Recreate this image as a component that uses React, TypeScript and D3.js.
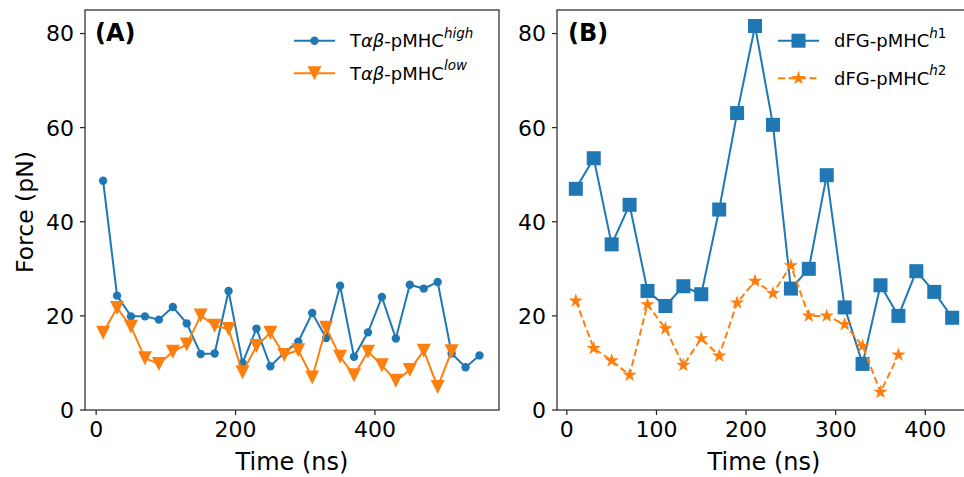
import React from 'react';
import * as d3 from 'd3';

const timeHigh = [10, 30, 50, 70, 90, 110, 130, 150, 170, 190, 210, 230, 250, 270, 290, 310, 330, 350, 370, 390, 410, 430, 450, 470, 490, 510, 530, 550];
const forceHigh = [48.7, 24.3, 19.9, 19.9, 19.2, 21.9, 18.4, 11.9, 12.0, 25.3, 10.0, 17.3, 9.3, 12.2, 14.5, 20.6, 15.3, 26.4, 11.3, 16.5, 24.0, 15.2, 26.6, 25.8, 27.2, 12.0, 9.1, 11.6];
const timeLow = [10, 30, 50, 70, 90, 110, 130, 150, 170, 190, 210, 230, 250, 270, 290, 310, 330, 350, 370, 390, 410, 430, 450, 470, 490, 510];
const forceLow = [16.4, 21.7, 17.7, 11.0, 9.8, 12.4, 13.9, 20.1, 17.9, 17.2, 8.0, 13.6, 16.4, 11.7, 12.7, 6.9, 17.5, 11.3, 7.4, 12.4, 9.5, 6.2, 8.5, 12.6, 4.9, 12.5];
const timeH1 = [10, 30, 50, 70, 90, 110, 130, 150, 170, 190, 210, 230, 250, 270, 290, 310, 330, 350, 370, 390, 410, 430];
const forceH1 = [47.0, 53.5, 35.2, 43.6, 25.3, 22.1, 26.3, 24.6, 42.6, 63.1, 81.6, 60.6, 25.8, 30.0, 49.9, 21.8, 9.8, 26.5, 20.0, 29.5, 25.1, 19.6];
const timeH2 = [10, 30, 50, 70, 90, 110, 130, 150, 170, 190, 210, 230, 250, 270, 290, 310, 330, 350, 370];
const forceH2 = [23.2, 13.1, 10.5, 7.4, 22.4, 17.3, 9.5, 15.2, 11.5, 22.8, 27.4, 24.8, 30.7, 20.0, 20.0, 18.2, 13.6, 3.8, 11.7];

const ticksA = [0, 200, 400];
const ticksB = [0, 100, 200, 300, 400];
const ticksY = [0, 20, 40, 60, 80];

const BLUE = '#1f77b4';
const ORANGE = '#ff7f0e';
const FONT = 'DejaVu Sans, sans-serif';

const top = 10, bottom = 410;
const y = d3.scaleLinear().domain([0, 85]).range([bottom, top]);
const xA = d3.scaleLinear().domain([-16, 578]).range([85, 499]);
const xB = d3.scaleLinear().domain([-11, 451]).range([557, 971]);

function starPath(R: number) {
  const r = R * 0.382;
  const pts: [number, number][] = [];
  for (let i = 0; i < 10; i++) {
    const a = (Math.PI / 5) * i - Math.PI / 2;
    const rr = i % 2 === 0 ? R : r;
    pts.push([rr * Math.cos(a), rr * Math.sin(a)]);
  }
  return 'M' + pts.map((p) => p.join(',')).join('L') + 'Z';
}
const tri = (r: number) => `M0,${r}L${-r},${-r}L${r},${-r}Z`;

type Marker = 'circle' | 'tri' | 'square' | 'star';

function MarkerShape({ kind, cx, cy, color }: { kind: Marker; cx: number; cy: number; color: string }) {
  if (kind === 'circle') return <circle cx={cx} cy={cy} r={4.2} fill={color} />;
  if (kind === 'square') return <rect x={cx - 7} y={cy - 7} width={14} height={14} fill={color} />;
  if (kind === 'tri') return <path d={tri(7)} transform={`translate(${cx},${cy})`} fill={color} />;
  return <path d={starPath(7.5)} transform={`translate(${cx},${cy})`} fill={color} />;
}

function Series({ xs, ys, x, color, marker, dashed }: { xs: number[]; ys: number[]; x: d3.ScaleLinear<number, number>; color: string; marker: Marker; dashed?: boolean }) {
  const line = d3.line<number>().x((_, i) => x(xs[i])).y((d) => y(d));
  return (
    <g>
      <path d={line(ys) || ''} fill="none" stroke={color} strokeWidth={2} strokeDasharray={dashed ? '7,3.5' : undefined} />
      {ys.map((v, i) => (
        <MarkerShape key={i} kind={marker} cx={x(xs[i])} cy={y(v)} color={color} />
      ))}
    </g>
  );
}

function Axes({ x, ticks, left, right, label, labelX }: { x: d3.ScaleLinear<number, number>; ticks: number[]; left: number; right: number; label: string; labelX: number }) {
  return (
    <g fontFamily={FONT}>
      <rect x={left} y={top} width={right - left} height={bottom - top} fill="none" stroke="#222" strokeWidth={1.2} />
      {ticks.map((t) => (
        <g key={'x' + t}>
          <line x1={x(t)} x2={x(t)} y1={bottom} y2={bottom + 5} stroke="#222" strokeWidth={1.2} />
          <text x={x(t)} y={437} textAnchor="middle" fontSize={22} fill="#000">{t}</text>
        </g>
      ))}
      {ticksY.map((t) => (
        <g key={'y' + t}>
          <line x1={left - 5} x2={left} y1={y(t)} y2={y(t)} stroke="#222" strokeWidth={1.2} />
          <text x={left - 11} y={y(t)} dy="0.36em" textAnchor="end" fontSize={22} fill="#000">{t}</text>
        </g>
      ))}
      <text x={labelX} y={470} textAnchor="middle" fontSize={24} fill="#000">{label}</text>
    </g>
  );
}

function LegendRow({ x0, yy, color, marker, dashed, base, sup }: { x0: number; yy: number; color: string; marker: Marker; dashed?: boolean; base: React.ReactNode; sup: React.ReactNode }) {
  return (
    <g>
      <line x1={x0} x2={x0 + 41} y1={yy} y2={yy} stroke={color} strokeWidth={2} strokeDasharray={dashed ? '7,3.5' : undefined} />
      <MarkerShape kind={marker} cx={x0 + 20.5} cy={yy} color={color} />
      <text x={x0 + 56} y={yy + 6.5} fontSize={18} fontFamily={FONT} fill="#000">
        {base}
        <tspan dy={-9.5} fontSize={13.5} fontStyle="italic">{sup}</tspan>
      </text>
    </g>
  );
}

export default function App() {
  const tab = (
    <>
      T<tspan fontStyle="italic">αβ</tspan>-pMHC
    </>
  );
  return (
    <svg width={964} height={477} style={{ position: 'absolute', left: 0, top: 0, background: '#fff' }}>
      <rect width={964} height={477} fill="#fff" />
      {/* Panel A */}
      <Axes x={xA} ticks={ticksA} left={85} right={499} label="Time (ns)" labelX={292} />
      <Series xs={timeHigh} ys={forceHigh} x={xA} color={BLUE} marker="circle" />
      <Series xs={timeLow} ys={forceLow} x={xA} color={ORANGE} marker="tri" />
      <text x={95} y={41} fontSize={24} fontWeight="bold" fontFamily={FONT}>(A)</text>
      <LegendRow x0={294} yy={40.7} color={BLUE} marker="circle" base={tab} sup="high" />
      <LegendRow x0={294} yy={73.3} color={ORANGE} marker="tri" base={tab} sup="low" />
      <text transform="translate(33,212) rotate(-90)" textAnchor="middle" fontSize={23.5} fontFamily={FONT}>Force (pN)</text>

      {/* Panel B */}
      <Axes x={xB} ticks={ticksB} left={557} right={971} label="Time (ns)" labelX={764} />
      <Series xs={timeH1} ys={forceH1} x={xB} color={BLUE} marker="square" />
      <Series xs={timeH2} ys={forceH2} x={xB} color={ORANGE} marker="star" dashed />
      <text x={568} y={41} fontSize={24} fontWeight="bold" fontFamily={FONT}>(B)</text>
      <LegendRow x0={778} yy={40.7} color={BLUE} marker="square" base="dFG-pMHC" sup={<><tspan>h</tspan><tspan fontStyle="normal">1</tspan></>} />
      <LegendRow x0={778} yy={78.3} color={ORANGE} marker="star" dashed base="dFG-pMHC" sup={<><tspan>h</tspan><tspan fontStyle="normal">2</tspan></>} />
    </svg>
  );
}
